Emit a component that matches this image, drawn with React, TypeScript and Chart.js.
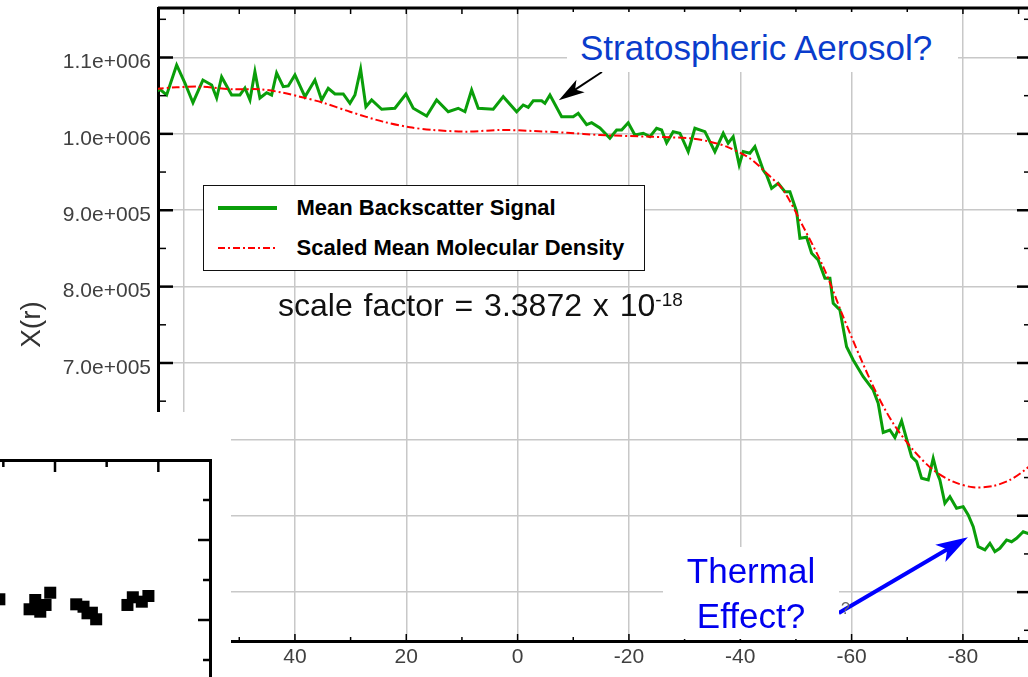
import React, { useEffect, useRef } from 'react';
import { Chart, registerables } from 'chart.js';

Chart.register(...registerables);

// ---------------- data ----------------
const backscatterAltitude = [
  65.0, 64.25, 63.05, 61.25, 59.76, 58.32, 56.53, 54.96, 54.06, 53.17, 51.37, 49.88, 48.98, 48.08, 47.19,
  46.29, 45.08, 44.19, 43.29, 42.1, 41.2, 40.0, 38.2, 36.41, 35.2, 34.02, 32.81, 31.32, 30.12, 29.22,
  28.2, 27.25, 26.22, 24.42, 22.04, 20.06, 18.75, 16.34, 14.55, 12.46, 10.67, 9.46, 8.26, 7.07, 4.38,
  2.58, 0.17, -1.01, -1.91, -2.81, -4.32, -4.91, -5.81, -7.91, -9.99, -10.89, -12.4, -13.3, -14.79,
  -16.58, -17.79, -18.69, -19.87, -21.07, -22.57, -23.77, -24.97, -25.87, -26.77, -27.95, -29.16,
  -30.65, -31.85, -33.65, -35.44, -36.94, -37.83, -38.73, -39.81, -40.53, -41.73, -42.63, -44.12,
  -44.73, -45.63, -46.82, -48.02, -48.92, -50.13, -50.72, -51.92, -52.82, -54.0, -55.21, -56.11,
  -56.7, -57.9, -59.1, -60.29, -62.09, -63.88, -64.78, -65.68, -66.88, -67.78, -68.98, -69.88,
  -70.78, -71.68, -72.58, -73.77, -74.66, -75.27, -75.86, -76.76, -77.66, -78.86, -80.05, -80.95,
  -81.85, -82.75, -83.95, -84.85, -85.74, -86.64, -87.84, -88.74, -89.64, -90.83, -91.67, -93.0,
];
const meanBackscatter = [
  1055000, 1058400, 1050900, 1090200, 1066600, 1040800, 1070500, 1064000, 1047000, 1074500, 1050900,
  1050900, 1060100, 1044400, 1081400, 1047000, 1053900, 1050900, 1079700, 1061800, 1062700, 1077100,
  1048700, 1070500, 1044400, 1059700, 1052200, 1052200, 1040000, 1050900, 1084600, 1035600, 1044400,
  1032200, 1033500, 1052200, 1033500, 1023400, 1044400, 1029000, 1033500, 1029000, 1057400, 1033500,
  1032200, 1048700, 1029000, 1037800, 1034800, 1043400, 1043400, 1040000, 1050900, 1022500, 1022500,
  1027000, 1012000, 1014600, 1007700, 994200, 1005100, 1005100, 1014600, 998500, 1000800, 996300,
  1007300, 1005100, 988400, 1002900, 1000800, 976700, 1007300, 1002900, 976700, 1000800, 987700,
  996300, 959300, 976700, 974600, 983200, 952700, 946200, 928700, 935300, 924300, 924300, 898100,
  863300, 864600, 843600, 834900, 810900, 810900, 778200, 769400, 721400, 703900, 682100, 664700,
  647200, 609000, 612300, 602500, 624100, 600500, 577300, 570800, 549000, 546800, 575200, 557700,
  546800, 516300, 525000, 509800, 511900, 501000, 485700, 459500, 455200, 463900, 453000, 457400,
  468300, 466000, 470500, 479100, 477000, 480000,
];
const densityAltitude = [
  65.0, 61.25, 57.06, 51.14, 46.29, 42.16, 39.1, 34.97, 30.12, 24.19, 19.34, 15.21, 9.1, 3.18, -2.75,
  -8.86, -14.79, -23.77, -30.95, -34.55, -37.55, -41.73, -44.73, -47.71, -51.3, -54.9, -58.49, -61.49,
  -64.49, -67.47, -71.07, -74.66, -78.25, -81.85, -85.44, -88.43, -91.13, -93.0,
];
const scaledDensity = [
  1059000, 1061000, 1061800, 1058400, 1058400, 1053900, 1048700, 1040800, 1029000, 1016000, 1008600,
  1005100, 1002900, 1005100, 1003800, 1001500, 998500, 996300, 994200, 989800, 983200, 968000, 948400,
  926500, 878500, 826100, 760600, 708300, 660300, 621000, 586100, 559900, 544600, 537300, 539000,
  546800, 559900, 572000,
];

const xTickValues = [-90, -80, -70, -60, -50, -40, -30, -20, -10, 0, 10, 20, 30, 40, 50, 60];
const yTickValues = [
  350000, 400000, 450000, 500000, 550000, 600000, 650000, 700000, 750000, 800000, 850000, 900000,
  950000, 1000000, 1050000, 1100000, 1150000,
];

// annotation anchors (data coordinates)
const aerosolArrow = { from: [-15.15, 1081000], to: [-7.4, 1044000] };
const thermalArrow = { from: [-57.7, 372700], to: [-80.9, 472000] };

// inset chart (partially visible, bottom-left)
const insetX = [-1.077, -0.092, -0.382, -0.492, -0.285, -0.183, 0.411, 0.552, 0.629, 0.797, 0.714, 1.402, 1.506, 1.68, 1.808];
const insetY = [1.259, 1.341, 1.25, 1.134, 1.104, 1.188, 1.196, 1.166, 1.084, 1.009, 1.091, 1.188, 1.284, 1.229, 1.3];
const insetXTicks = [-2, -1, 0, 1, 2];
const insetYTicks = [0.5, 1, 1.5, 2, 2.5];

// ---------------- helpers ----------------
const FONT = '"Liberation Sans", Arial, sans-serif';

const isMult = (v: number, step: number) => Math.abs(v / step - Math.round(v / step)) < 1e-6;

const sci = (v: number) => {
  const e = Math.floor(Math.log10(Math.abs(v)) + 1e-9);
  const m = v / Math.pow(10, e);
  return m.toFixed(1) + 'e+' + String(e).padStart(3, '0');
};

const zeroPad = (s: any) => {
  s.paddingTop = 0;
  s.paddingBottom = 0;
  s.paddingLeft = 0;
  s.paddingRight = 0;
};

const frameTicks = {
  id: 'frameTicks',
  afterDraw(chart: any, _a: any, opts: any) {
    const { ctx, chartArea: a } = chart;
    ctx.save();
    ctx.strokeStyle = '#000';
    ctx.lineCap = 'butt';
    ctx.lineWidth = opts.frameWidth || 3;
    for (const edge of opts.frame || []) {
      ctx.beginPath();
      if (edge === 'top') { ctx.moveTo(a.left, a.top); ctx.lineTo(a.right, a.top); }
      if (edge === 'right') { ctx.moveTo(a.right, a.top); ctx.lineTo(a.right, a.bottom); }
      ctx.stroke();
    }
    for (const m of opts.marks || []) {
      const scale = chart.scales[m.scale];
      for (const v of m.values) {
        const p = scale.getPixelForValue(v);
        const major = isMult(v, m.majorStep);
        const len = major ? m.majorLen : m.minorLen;
        ctx.lineWidth = major ? m.majorWidth : m.minorWidth;
        ctx.beginPath();
        if (m.edge === 'top') { ctx.moveTo(p, a.top); ctx.lineTo(p, a.top + len); }
        if (m.edge === 'bottom') { ctx.moveTo(p, a.bottom); ctx.lineTo(p, a.bottom - len); }
        if (m.edge === 'left') { ctx.moveTo(a.left, p); ctx.lineTo(a.left + len, p); }
        if (m.edge === 'right') { ctx.moveTo(a.right, p); ctx.lineTo(a.right - len, p); }
        ctx.stroke();
      }
    }
    ctx.restore();
  },
};

const arrows = {
  id: 'arrows',
  afterDraw(chart: any, _a: any, opts: any) {
    const { ctx, scales } = chart;
    ctx.save();
    for (const it of opts.items || []) {
      const x1 = scales.x.getPixelForValue(it.from[0]);
      const y1 = scales.y.getPixelForValue(it.from[1]);
      const x2 = scales.x.getPixelForValue(it.to[0]);
      const y2 = scales.y.getPixelForValue(it.to[1]);
      const ang = Math.atan2(y2 - y1, x2 - x1);
      const bx = x2 - it.headLen * Math.cos(ang);
      const by = y2 - it.headLen * Math.sin(ang);
      const nx = Math.sin(ang) * it.headWidth / 2;
      const ny = -Math.cos(ang) * it.headWidth / 2;
      ctx.strokeStyle = it.color;
      ctx.fillStyle = it.color;
      ctx.lineWidth = it.width;
      ctx.beginPath();
      ctx.moveTo(x1, y1);
      ctx.lineTo(bx + 0.3 * it.headLen * Math.cos(ang), by + 0.3 * it.headLen * Math.sin(ang));
      ctx.stroke();
      ctx.beginPath();
      ctx.moveTo(x2, y2);
      ctx.lineTo(bx + nx, by + ny);
      ctx.lineTo(bx + 0.25 * it.headLen * Math.cos(ang), by + 0.25 * it.headLen * Math.sin(ang));
      ctx.lineTo(bx - nx, by - ny);
      ctx.closePath();
      ctx.fill();
    }
    ctx.restore();
  },
};

export default function App() {
  const mainRef = useRef<HTMLCanvasElement>(null);
  const insetRef = useRef<HTMLCanvasElement>(null);

  useEffect(() => {
    const main = new Chart(mainRef.current as HTMLCanvasElement, {
      type: 'line',
      data: {
        datasets: [
          {
            label: 'Scaled Mean Molecular Density',
            data: densityAltitude.map((x, i) => ({ x, y: scaledDensity[i] })),
            borderColor: '#ff0000',
            borderWidth: 2,
            borderDash: [8, 3, 2, 3],
            pointRadius: 0,
            tension: 0.3,
            fill: false,
            order: 0,
          },
          {
            label: 'Mean Backscatter Signal',
            data: backscatterAltitude.map((x, i) => ({ x, y: meanBackscatter[i] })),
            borderColor: '#0a9e0a',
            borderWidth: 3,
            pointRadius: 0,
            tension: 0,
            fill: false,
            order: 1,
          },
        ],
      },
      options: {
        animation: false,
        responsive: false,
        events: [],
        layout: { autoPadding: false, padding: { top: 8, right: 10, left: 0, bottom: 0 } },
        plugins: {
          legend: { display: false },
          tooltip: { enabled: false },
          frameTicks: {
            frame: ['top', 'right'],
            frameWidth: 3,
            marks: [
              { scale: 'y', edge: 'left', values: yTickValues, majorStep: 100000, majorLen: 15, minorLen: 8, majorWidth: 2.5, minorWidth: 1.5 },
              { scale: 'y', edge: 'right', values: yTickValues, majorStep: 100000, majorLen: 13, minorLen: 6, majorWidth: 2.5, minorWidth: 1.5 },
              { scale: 'x', edge: 'top', values: xTickValues, majorStep: 10, majorLen: 6, minorLen: 6, majorWidth: 1.5, minorWidth: 1.5 },
              { scale: 'x', edge: 'bottom', values: xTickValues, majorStep: 20, majorLen: 7, minorLen: 4, majorWidth: 1.5, minorWidth: 1.5 },
            ],
          },
          arrows: {
            items: [
              { ...aerosolArrow, color: '#000000', width: 2, headLen: 26, headWidth: 15 },
              { ...thermalArrow, color: '#0000ff', width: 4, headLen: 32, headWidth: 20 },
            ],
          },
        } as any,
        scales: {
          x: {
            type: 'linear',
            reverse: true,
            min: -92.05,
            max: 64.6,
            afterBuildTicks: (s: any) => { s.ticks = xTickValues.map((v) => ({ value: v })); },
            afterFit: (s: any) => { s.height = 36; zeroPad(s); },
            grid: {
              color: (c: any) => (c.tick && isMult(c.tick.value, 20) ? '#c8c8c8' : 'rgba(0,0,0,0)'),
              lineWidth: 1.5,
              drawTicks: false,
            },
            border: { display: true, color: '#000', width: 3 },
            ticks: {
              autoSkip: false,
              maxRotation: 0,
              padding: 4,
              color: '#404040',
              font: { family: FONT, size: 21 },
              callback: (v: any) => (isMult(Number(v), 20) ? String(v) : ''),
            },
          },
          y: {
            type: 'linear',
            position: 'left',
            min: 336000,
            max: 1164800,
            afterBuildTicks: (s: any) => { s.ticks = yTickValues.map((v) => ({ value: v })); },
            afterFit: (s: any) => { s.width = 158; zeroPad(s); },
            grid: {
              color: (c: any) => (c.tick && isMult(c.tick.value, 100000) ? '#c8c8c8' : 'rgba(0,0,0,0)'),
              lineWidth: 1.5,
              drawTicks: false,
            },
            border: { display: true, color: '#000', width: 3 },
            title: {
              display: true,
              text: 'X(r)',
              color: '#333',
              font: { family: FONT, size: 28 },
              padding: { top: 15, bottom: 0 },
            },
            ticks: {
              autoSkip: false,
              padding: 7,
              labelOffset: 5,
              color: '#404040',
              font: { family: FONT, size: 21 },
              callback: (v: any) => (isMult(Number(v), 100000) ? sci(Number(v)) : ''),
            },
          },
        },
      },
      plugins: [frameTicks, arrows],
    } as any);

    const inset = new Chart(insetRef.current as HTMLCanvasElement, {
      type: 'scatter',
      data: {
        datasets: [
          {
            data: insetX.map((x, i) => ({ x, y: insetY[i] })),
            pointStyle: 'rect',
            pointRadius: 8.5,
            backgroundColor: '#000',
            borderWidth: 0,
          },
        ],
      },
      options: {
        animation: false,
        responsive: false,
        events: [],
        layout: { autoPadding: false, padding: { top: 2, right: 2, left: 0, bottom: 0 } },
        plugins: {
          legend: { display: false },
          tooltip: { enabled: false },
          frameTicks: {
            frame: [],
            marks: [
              { scale: 'x', edge: 'top', values: insetXTicks, majorStep: 2, majorLen: 12, minorLen: 7, majorWidth: 2.5, minorWidth: 2.5 },
              { scale: 'y', edge: 'right', values: insetYTicks, majorStep: 1, majorLen: 12, minorLen: 7, majorWidth: 2.5, minorWidth: 2.5 },
            ],
          },
        } as any,
        scales: {
          x: {
            type: 'linear',
            position: 'top',
            min: -3,
            max: 3,
            afterFit: (s: any) => { s.height = 0; zeroPad(s); },
            grid: { display: false, drawTicks: false },
            border: { display: true, color: '#000', width: 3 },
            ticks: { display: false },
          },
          y: {
            type: 'linear',
            position: 'right',
            min: -0.025,
            max: 3,
            afterFit: (s: any) => { s.width = 0; zeroPad(s); },
            grid: { display: false, drawTicks: false },
            border: { display: true, color: '#000', width: 3 },
            ticks: { display: false },
          },
        },
      },
      plugins: [frameTicks],
    } as any);

    return () => {
      main.destroy();
      inset.destroy();
    };
  }, []);

  const abs = (s: React.CSSProperties): React.CSSProperties => ({ position: 'absolute', ...s });

  return (
    <div
      style={{
        position: 'fixed',
        left: 0,
        top: 0,
        width: 1028,
        height: 677,
        overflow: 'hidden',
        background: '#fff',
        fontFamily: FONT,
      }}
    >
      <canvas ref={mainRef} width={1040} height={677} style={abs({ left: 0, top: 0, width: 1040, height: 677 })} />

      {/* cover of the lower-left corner, with the inset chart */}
      <div style={abs({ left: 0, top: 412, width: 231, height: 265, background: '#fff' })} />
      <canvas ref={insetRef} width={312} height={244} style={abs({ left: -100, top: 458, width: 312, height: 244 })} />

      {/* legend */}
      <div
        style={abs({
          left: 203,
          top: 185,
          width: 442,
          height: 86,
          boxSizing: 'border-box',
          border: '1.5px solid #111',
          background: '#fff',
        })}
      >
        <svg width={60} height={8} style={abs({ left: 13.5, top: 17.5 })}>
          <line x1={0} y1={4} x2={59} y2={4} stroke="#0a9e0a" strokeWidth={4} />
        </svg>
        <div style={abs({ left: 92.5, top: 6.5, height: 30, lineHeight: '30px', fontSize: 22, fontWeight: 700, color: '#000', whiteSpace: 'nowrap' })}>
          Mean Backscatter Signal
        </div>
        <svg width={60} height={8} style={abs({ left: 13.5, top: 57.5 })}>
          <line x1={0} y1={4} x2={59} y2={4} stroke="#ff0000" strokeWidth={2} strokeDasharray="7 3 2 3" />
        </svg>
        <div style={abs({ left: 92.5, top: 46.5, height: 30, lineHeight: '30px', fontSize: 22, fontWeight: 700, color: '#000', whiteSpace: 'nowrap' })}>
          Scaled Mean Molecular Density
        </div>
      </div>

      {/* scale factor note */}
      <div style={abs({ left: 278, top: 289, fontSize: 32, lineHeight: '32px', color: '#111', whiteSpace: 'nowrap', wordSpacing: 2 })}>
        scale factor = 3.3872 x 10
        <span style={{ fontSize: 19, verticalAlign: '10px', lineHeight: 0 }}>-18</span>
      </div>

      {/* annotations */}
      <div style={abs({ left: 567, top: 12, width: 391, height: 60, background: '#fff' })}>
        <div style={abs({ left: 13, top: 18.4, fontSize: 35, lineHeight: '35px', color: '#0a3ccc', whiteSpace: 'nowrap' })}>
          Stratospheric Aerosol?
        </div>
      </div>
      <div style={abs({ left: 663, top: 547, width: 176, height: 92, background: '#fff' })}>
        <div style={abs({ left: 0, top: 1.4, width: 176, textAlign: 'center', fontSize: 35, lineHeight: '45px', color: '#0000ee' })}>
          Thermal
          <br />
          Effect?
        </div>
      </div>
      <div style={abs({ left: 841, top: 601, fontSize: 16, lineHeight: '16px', color: '#666' })}>?</div>
    </div>
  );
}
